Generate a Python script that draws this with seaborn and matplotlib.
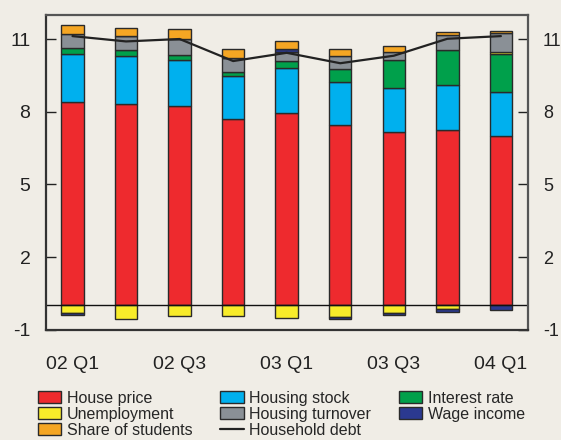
import numpy as np
import pandas as pd
import seaborn as sns
import matplotlib.pyplot as plt
from matplotlib.patches import Patch
from matplotlib.lines import Line2D

# values (percentage points)
quarters = ["02 Q1", "02 Q2", "02 Q3", "02 Q4", "03 Q1", "03 Q2", "03 Q3", "03 Q4", "04 Q1"]
house_price = [8.39, 8.30, 8.22, 7.70, 7.94, 7.46, 7.16, 7.26, 6.98]
housing_stock = [2.00, 1.98, 1.92, 1.79, 1.87, 1.76, 1.80, 1.84, 1.82]
interest_rate = [0.22, 0.28, 0.18, 0.15, 0.27, 0.54, 1.16, 1.46, 1.58]
unemployment = [-0.30, -0.55, -0.44, -0.44, -0.51, -0.47, -0.33, -0.16, 0.09]
housing_turnover = [0.60, 0.55, 0.68, 0.56, 0.37, 0.52, 0.33, 0.59, 0.76]
wage_income = [-0.11, 0.0, 0.0, 0.0, 0.14, -0.08, -0.08, -0.11, -0.18]
share_students = [0.36, 0.33, 0.40, 0.37, 0.33, 0.31, 0.25, 0.13, 0.09]
household_debt = [11.12, 10.90, 11.00, 10.09, 10.43, 10.00, 10.31, 11.01, 11.12]

ytick_vals = [-1, 2, 5, 8, 11]
label_quarters = ["02 Q1", "02 Q3", "03 Q1", "03 Q3", "04 Q1"]

bg = "#f0ede6"
edge = "#2a2a2a"
colors = {
    "House price": "#ee2a2e",
    "Housing stock": "#00b0ee",
    "Interest rate": "#00a04b",
    "Unemployment": "#f8ec2a",
    "Housing turnover": "#8a9096",
    "Wage income": "#2b3990",
    "Share of students": "#f5a623",
}
series = [
    ("House price", house_price),
    ("Housing stock", housing_stock),
    ("Interest rate", interest_rate),
    ("Unemployment", unemployment),
    ("Housing turnover", housing_turnover),
    ("Wage income", wage_income),
    ("Share of students", share_students),
]

sns.set_style("white")
plt.rcParams["font.family"] = ["Liberation Sans", "DejaVu Sans"]
plt.rcParams["axes.unicode_minus"] = False

fig = plt.figure(figsize=(5.61, 4.40), dpi=100, facecolor=bg)
ax = fig.add_axes([0.0815, 0.2507, 0.8591, 0.7157])
ax.set_facecolor(bg)

# stack positives upward and negatives downward from zero
pos_bottom = np.zeros(len(quarters))
neg_bottom = np.zeros(len(quarters))
for name, vals in series:
    v = np.array(vals)
    bottom = np.where(v >= 0, pos_bottom, neg_bottom)
    df = pd.DataFrame({"quarter": quarters, "value": v})
    sns.barplot(data=df, x="quarter", y="value", order=quarters, bottom=bottom,
                color=colors[name], saturation=1, width=0.42, errorbar=None,
                edgecolor=edge, linewidth=1.0, ax=ax, zorder=2)
    pos_bottom = pos_bottom + np.clip(v, 0, None)
    neg_bottom = neg_bottom + np.clip(v, None, 0)

sns.lineplot(x=np.arange(len(quarters)), y=household_debt, color="#222222",
             linewidth=1.6, ax=ax, zorder=3)

ax.axhline(0, color="#111111", linewidth=1.0, zorder=2.5)

ax.set_xlim(-0.5, len(quarters) - 0.5)
ax.set_ylim(-1, 12)
ax.set_xlabel("")
ax.set_ylabel("")

ax.set_xticks([quarters.index(q) for q in label_quarters])
ax.set_xticklabels(label_quarters)
ax.set_xticks(np.arange(len(quarters) - 1) + 0.5, minor=True)
ax.tick_params(axis="x", which="major", length=0, pad=19, labelsize=14, colors="#222222")
ax.tick_params(axis="x", which="minor", length=6, width=1, direction="in", color="#444444")

ax.set_yticks(ytick_vals)
ax.tick_params(axis="y", which="major", length=7, width=1, direction="in",
               left=True, right=True, labelleft=True, labelright=True,
               pad=11, labelsize=14, colors="#222222")
for t in ax.yaxis.get_major_ticks():
    t.label2.set_fontsize(13)

for side, sp in ax.spines.items():
    sp.set_visible(True)
    sp.set_color("#555555" if side in ("top", "right") else "#333333")
    sp.set_linewidth(1.6)

handles = [
    Patch(facecolor=colors["House price"], edgecolor=edge, label="House price"),
    Patch(facecolor=colors["Unemployment"], edgecolor=edge, label="Unemployment"),
    Patch(facecolor=colors["Share of students"], edgecolor=edge, label="Share of students"),
    Patch(facecolor=colors["Housing stock"], edgecolor=edge, label="Housing stock"),
    Patch(facecolor=colors["Housing turnover"], edgecolor=edge, label="Housing turnover"),
    Line2D([0], [0], color="#222222", linewidth=1.6, label="Household debt"),
    Patch(facecolor=colors["Interest rate"], edgecolor=edge, label="Interest rate"),
    Patch(facecolor=colors["Wage income"], edgecolor=edge, label="Wage income"),
]
fig.legend(handles=handles, loc="upper left", bbox_to_anchor=(0.068, 0.112),
           ncol=3, frameon=False, fontsize=11.5, handlelength=1.45, handleheight=0.75,
           handletextpad=0.35, columnspacing=1.75, labelspacing=0.06, borderpad=0,
           borderaxespad=0)

fig.savefig("out.png", dpi=100, facecolor=bg)
